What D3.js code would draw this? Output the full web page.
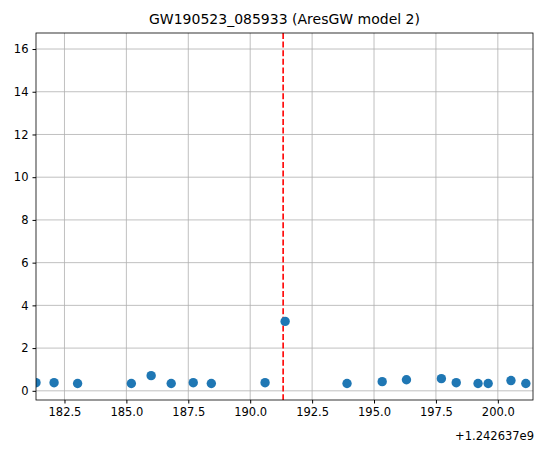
<!DOCTYPE html>
<html><head><meta charset="utf-8">
<script src="https://cdn.jsdelivr.net/npm/d3@7"></script>
<style>body{margin:0;background:#fff}text{font-family:"DejaVu Sans",sans-serif}</style>
</head><body><div id="chart"></div>
<script>
const OFFSET_LABEL = "+1.242637e9";
const TITLE = "GW190523_085933 (AresGW model 2)";
const times = [181.35, 182.08, 183.03, 185.20, 186.0, 186.81, 187.70, 188.43, 190.60, 191.41,
  193.91, 195.33, 196.31, 197.72, 198.32, 199.20, 199.61, 200.53, 201.13];
const values = [0.38, 0.38, 0.34, 0.34, 0.71, 0.34, 0.38, 0.34, 0.38, 3.25,
  0.34, 0.43, 0.52, 0.57, 0.38, 0.34, 0.34, 0.48, 0.34];
const eventTime = 191.33;
const xTicks = [182.5, 185.0, 187.5, 190.0, 192.5, 195.0, 197.5, 200.0];
const yTicks = [0, 2, 4, 6, 8, 10, 12, 14, 16];

const W = 543, H = 453;
const M = { top: 33, right: 10, bottom: 53, left: 36 };
const iw = W - M.left - M.right, ih = H - M.top - M.bottom;
const svg = d3.select("#chart").append("svg").attr("width", W).attr("height", H);
const g = svg.append("g").attr("transform", `translate(${M.left},${M.top})`);
const x = d3.scaleLinear().domain([181.35, 201.42]).range([0, iw]);
const y = d3.scaleLinear().domain([-0.43, 16.75]).range([ih, 0]);

g.append("g").selectAll("line").data(xTicks).join("line")
  .attr("x1", d => x(d)).attr("x2", d => x(d)).attr("y1", 0).attr("y2", ih)
  .attr("stroke", "#b0b0b0").attr("stroke-width", 0.8);
g.append("g").selectAll("line").data(yTicks).join("line")
  .attr("y1", d => y(d)).attr("y2", d => y(d)).attr("x1", 0).attr("x2", iw)
  .attr("stroke", "#b0b0b0").attr("stroke-width", 0.8);

const xa = g.append("g").attr("transform", `translate(0,${ih})`)
  .call(d3.axisBottom(x).tickValues(xTicks).tickFormat(d3.format(".1f")).tickSizeOuter(0).tickSize(3.5).tickPadding(4));
const ya = g.append("g")
  .call(d3.axisLeft(y).tickValues(yTicks).tickFormat(d3.format("d")).tickSizeOuter(0).tickSize(3.5).tickPadding(4));
[xa, ya].forEach(a => { a.selectAll("text").attr("font-size", 11.5).attr("fill", "#000"); a.select(".domain").remove(); });

g.append("line").attr("x1", x(eventTime)).attr("x2", x(eventTime)).attr("y1", 0).attr("y2", ih)
  .attr("stroke", "red").attr("stroke-width", 1.6).attr("stroke-dasharray", "6,2.6");

svg.append("clipPath").attr("id", "c").append("rect").attr("width", iw).attr("height", ih);
g.append("g").attr("clip-path", "url(#c)").selectAll("circle").data(times).join("circle")
  .attr("cx", d => x(d)).attr("cy", (d, i) => y(values[i])).attr("r", 4.7).attr("fill", "#1f77b4");

g.append("rect").attr("width", iw).attr("height", ih).attr("fill", "none").attr("stroke", "#000").attr("stroke-width", 0.8);

svg.append("text").attr("x", M.left + iw + 1).attr("y", 440).attr("text-anchor", "end")
  .attr("font-size", 11.5).text(OFFSET_LABEL);
svg.append("text").attr("x", M.left + iw / 2).attr("y", 24).attr("text-anchor", "middle")
  .attr("font-size", 14).text(TITLE);
</script></body></html>
